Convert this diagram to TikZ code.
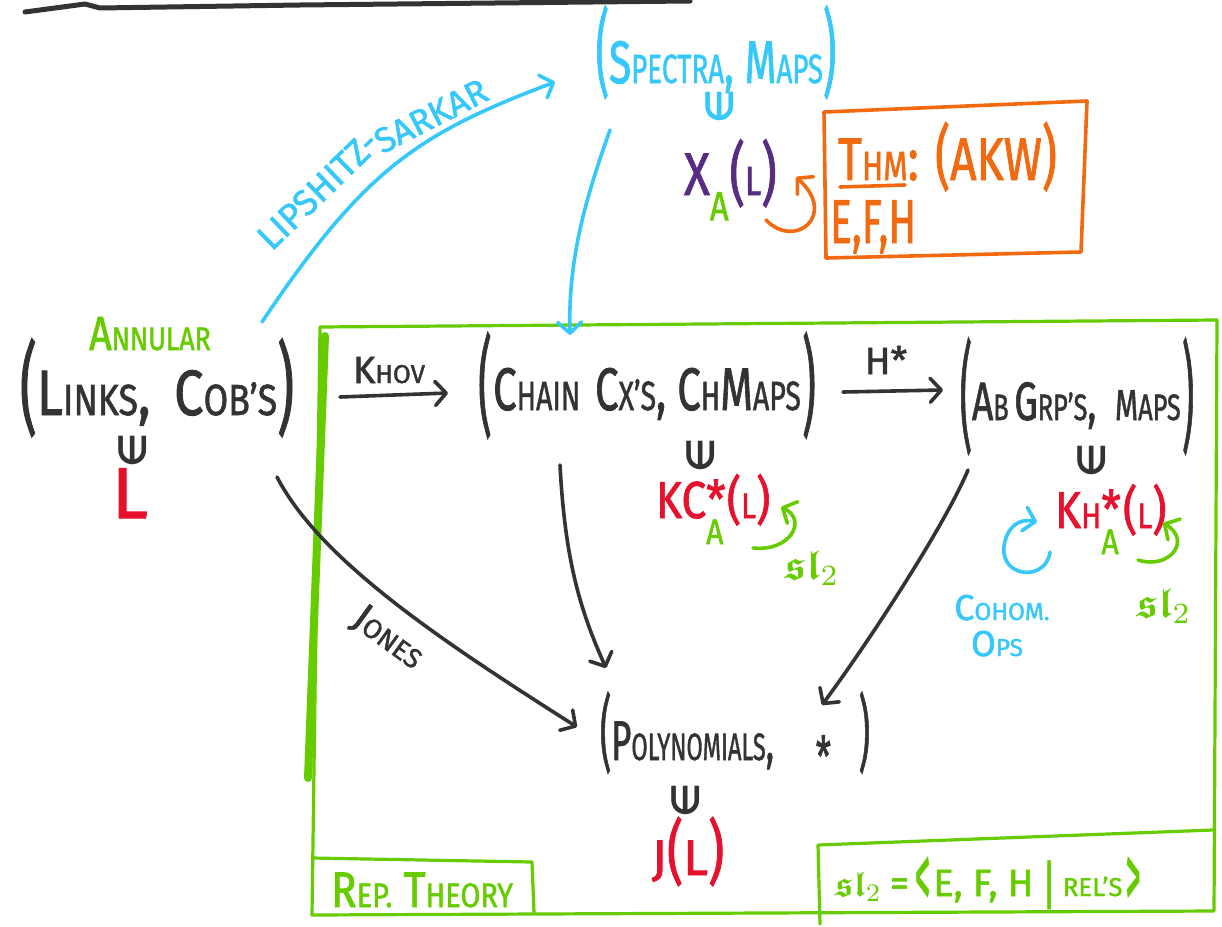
\documentclass[tikz,border=0pt]{standalone}
\usepackage{amsmath,amssymb}
\usepackage{fontspec}
\setmainfont{Fira Sans}[FakeBold=1.5]
\newfontfamily\djv{DejaVu Sans}
\usetikzlibrary{arrows.meta}
\definecolor{ink}{HTML}{333333}
\definecolor{sky}{HTML}{36C8FA}
\definecolor{grn}{HTML}{66CC00}
\definecolor{rd}{HTML}{E6112D}
\definecolor{org}{HTML}{F26A10}
\definecolor{prp}{HTML}{582C83}
\newcommand{\smc}[1]{\scalebox{0.68}{#1}}
\newcommand{\lpar}[2]{\raisebox{#2}{\scalebox{1}[#1]{(}}}
\newcommand{\rpar}[2]{\raisebox{#2}{\scalebox{1}[#1]{)}}}
\newcommand{\elem}{\rotatebox{90}{\djv\bfseries ∈}}
\newcommand{\fsl}[1]{\scalebox{#1}{\normalsize$\boldsymbol{\mathfrak{sl}}_2$}}
\begin{document}
\begin{tikzpicture}[x=1pt,y=-1pt,
  hand/.style={line width=3.6pt,line cap=round,line join=round},
  arr/.style={hand,-{Straight Barb[length=11pt,width=24pt,round]}},
  txt/.style={inner sep=0pt,outer sep=0pt},
  fs/.style={font=\fontsize{#1pt}{#1pt}\selectfont},
  gbox/.style={grn,line width=3.2pt,line cap=round,line join=round},
  elemnode/.style={txt,fs=38,text=ink},
]
\useasboundingbox (0,0) rectangle (1222,926);
\fill[white] (0,0) rectangle (1222,926);

% top stroke
\draw[ink,line width=5pt,line cap=round,line join=round] (25,12) -- (85,4) -- (100,8) -- (300,5) -- (690,1);

% green frames
\draw[gbox] (312,915) -- (320,327) -- (1217,320) -- (1214,911) -- cycle;
\draw[grn,line width=8pt,line cap=round] (325,336) -- (308,778);
\draw[gbox] (312,858) -- (532,862) -- (534,912);
\draw[gbox] (1213,830) -- (818,845) -- (820,924);

% Spectra
\node[txt,fs=60,xscale=0.68,text=sky,anchor=base] (spec) at (716,83)
  {\lpar{1.58}{-0.04em}S\smc{PECTRA}, M\smc{APS}\rpar{1.58}{-0.04em}};
\node[elemnode,text=sky] (specin) at (720,106) {\elem};
\node[txt,fs=60,xscale=0.8,text=prp,anchor=base west] (xal) at (684,195)
  {X\textcolor{grn}{\raisebox{-0.42em}{\smc{A}}}\kern1pt\lpar{1.15}{-0.04em}\smc{L}\rpar{1.15}{-0.04em}};

% Theorem box
\node[txt,fs=60,xscale=0.77,text=org,anchor=base west] (thm) at (838,180)
  {T\smc{HM}: \lpar{1.17}{-0.02em}AKW\rpar{1.17}{-0.02em}};
\node[txt,fs=62,xscale=0.66,text=org,anchor=base west] (efh) at (830,243) {E,F,H};
\coordinate (ul0) at (840,187);
\coordinate (ul1) at (905,185);
\draw[org,hand] (ul0) -- (ul1);
\draw[org,hand] (824,112) -- (1087,101) -- (1081,252) -- (826,258) -- cycle;
\coordinate (oc0) at (766,220);
\coordinate (oc1) at (796,177);
\draw[org,arr] (oc0) .. controls (795,250) and (838,215) .. (oc1);

% Links
\node[txt,fs=48,xscale=0.82,text=grn,anchor=base] (ann) at (150,350) {A\smc{NNULAR}};
\node[txt,fs=64,xscale=0.82,text=ink,anchor=base] (links) at (157,415)
  {\lpar{1.56}{-0.12em}L\smc{INKS},\hspace{0.45em}C\smc{OB'S}\rpar{1.56}{-0.12em}};
\node[elemnode] (linksin) at (133,450) {\elem};
\node[txt,fs=72,text=rd,anchor=base] (Lnode) at (130,518) {L};

% Lipshitz-Sarkar
\coordinate (ls0) at (262,322);
\coordinate (ls1) at (555,82);
\draw[sky,arr] (ls0) .. controls (364,170) and (417,134) .. (ls1);
\node[txt,fs=36,text=sky,rotate=44] (lip) at (318,190) {LIPSHITZ-};
\node[txt,fs=35,text=sky,rotate=27] (sark) at (431,116) {SARKAR};

% spectra -> chain
\coordinate (sc0) at (610,130);
\coordinate (sc1) at (570,335);
\draw[sky,arr] (sc0) .. controls (585,200) and (568,260) .. (sc1);

% Khov
\node[txt,fs=38,text=ink,anchor=base] (khov) at (389,383) {K\smc{HOV}};
\coordinate (kh0) at (340,397);
\coordinate (kh1) at (448,393);
\draw[ink,arr] (kh0) -- (kh1);

% Chain
\node[txt,fs=60,xscale=0.7,text=ink,anchor=base] (chain) at (647,410)
  {\lpar{1.8}{-0.22em}\kern2pt C\smc{HAIN}\hspace{0.35em}C\smc{X'S}, C\smc{H}M\smc{APS}\kern2pt\rpar{1.8}{-0.22em}};
\node[elemnode] (chainin) at (701,455) {\elem};
\node[txt,fs=52,xscale=0.85,text=rd,anchor=base west] (kc) at (656,518)
  {KC\rlap{*}\raisebox{-0.5em}{\textcolor{grn}{\smc{A}}}\kern4pt(\smc{L})};
\coordinate (gc0) at (753,548);
\coordinate (gc1) at (781,507);
\draw[grn,arr] (gc0) .. controls (790,552) and (808,520) .. (gc1);
\node[txt,text=grn] (sla) at (812,568) {\fsl{4.2}};

% H*
\node[txt,fs=38,text=ink,anchor=base] (hstar) at (886,374) {H*};
\coordinate (h0) at (843,392);
\coordinate (h1) at (943,390);
\draw[ink,arr] (h0) -- (h1);

% Ab Grp's
\node[txt,fs=54,xscale=0.69,text=ink,anchor=base] (ab) at (1077,420)
  {\lpar{2.2}{-0.33em}A\smc{B}\hspace{0.15em}G\smc{RP'S},\hspace{0.5em}\scalebox{0.8}{M}\smc{APS}\kern2pt\rpar{2.2}{-0.33em}};
\node[elemnode] (abin) at (1092,460) {\elem};
\node[txt,fs=52,xscale=0.85,text=rd,anchor=base west] (kh) at (1055,528)
  {K\smc{H}\rlap{*}\raisebox{-0.5em}{\textcolor{grn}{\smc{A}}}\kern5pt(\smc{L})};
\coordinate (cc0) at (1050,552);
\coordinate (cc1) at (1037,522);
\draw[sky,arr] (cc0) .. controls (1046,582) and (1000,578) .. (1004,546) .. controls (1007,526) and (1020,518) .. (cc1);
\node[txt,fs=36,text=sky,anchor=base] (cohom) at (1002,620) {C\smc{OHOM.}};
\node[txt,fs=36,text=sky,anchor=base] (ops) at (997,656) {O\smc{PS}};
\coordinate (gr0) at (1138,560);
\coordinate (gr1) at (1163,523);
\draw[grn,arr] (gr0) .. controls (1170,570) and (1192,540) .. (gr1);
\node[txt,text=grn] (slb) at (1164,606) {\fsl{4.2}};

% Polynomials
\node[txt,fs=56,xscale=0.62,text=ink,anchor=base] (poly) at (735,760)
  {\lpar{1.48}{-0.03em}P\smc{OLYNOMIALS},\hspace{1.2em}\raisebox{-0.3em}{*}\hspace{0.8em}\rpar{1.48}{-0.03em}};
\node[elemnode] (polyin) at (686,800) {\elem};
\node[txt,fs=50,text=rd,anchor=base] (jl) at (688,875) {J\lpar{1.4}{-0.02em}L\rpar{1.4}{-0.02em}};

\coordinate (cp0) at (560,465);
\coordinate (cp1) at (606,668);
\draw[ink,arr] (cp0) .. controls (565,560) and (580,610) .. (cp1);
\coordinate (ap0) at (968,470);
\coordinate (ap1) at (822,705);
\draw[ink,arr] (ap0) .. controls (945,525) and (870,640) .. (ap1);
\coordinate (jp0) at (277,477);
\coordinate (jp1) at (577,727);
\draw[ink,arr] (jp0) .. controls (320,560) and (440,640) .. (jp1);
\node[txt,fs=40,text=ink,rotate=-36] (jones) at (388,638) {J\smc{ONES}};

% bottom boxes text
\node[txt,fs=50,xscale=0.85,text=grn,anchor=base] (rep) at (422,907) {R\smc{EP.} T\smc{HEORY}};
\node[txt,fs=38,text=grn,anchor=base west] (slrel) at (835,896)
  {\fsl{3.6}\hspace{8pt}=\hspace{6pt}\raisebox{-0.3em}{\scalebox{0.8}[2.4]{<}}\hspace{3pt}E, F, H\hspace{8pt}\raisebox{-0.2em}{\scalebox{1}[1.4]{|}}\hspace{6pt}\smc{REL'S}\hspace{3pt}\raisebox{-0.3em}{\scalebox{0.8}[2.4]{>}}};
\end{tikzpicture}
\end{document}
